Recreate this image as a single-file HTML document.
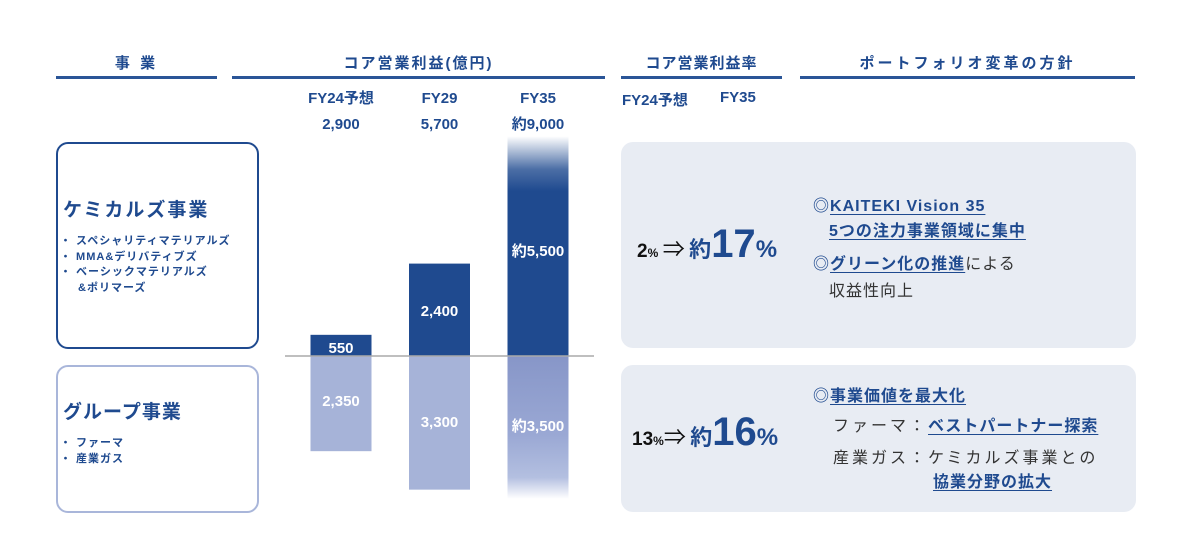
<!DOCTYPE html>
<html><head><meta charset="utf-8">
<style>
body{margin:0;width:1200px;height:560px;background:#fff;font-family:"Liberation Sans","Noto Sans CJK JP",sans-serif;position:relative;overflow:hidden;color:#1f4a8f}
.abs{position:absolute}
.hd{font-weight:bold;font-size:15px;letter-spacing:3px;text-align:center;color:#1f4a8f}
.ul{height:3px;background:#2a5597}
.b{font-weight:bold}
.panel{background:#e8ecf3;border-radius:12px}
.u{text-decoration:underline;text-underline-offset:3px;text-decoration-thickness:1px}
.g{color:#333;font-weight:normal}
</style></head><body>
<div class="abs hd" style="left:56px;top:52px;width:161px">事 業</div>
<div class="abs ul" style="left:56px;top:76px;width:161px"></div>
<div class="abs hd" style="left:232px;top:52px;width:373px;letter-spacing:2px">コア営業利益(億円)</div>
<div class="abs ul" style="left:232px;top:76px;width:373px"></div>
<div class="abs hd" style="left:621px;top:52px;width:161px;letter-spacing:1px">コア営業利益率</div>
<div class="abs ul" style="left:621px;top:76px;width:161px"></div>
<div class="abs hd" style="left:800px;top:52px;width:335px">ポートフォリオ変革の方針</div>
<div class="abs ul" style="left:800px;top:76px;width:335px"></div>

<div class="abs b" style="left:622px;top:89px;font-size:15px">FY24予想</div>
<div class="abs b" style="left:720px;top:89px;font-size:15px">FY35</div>

<div class="abs" style="left:56px;top:142px;width:199px;height:203px;border:2px solid #1f4a8f;border-radius:12px"></div>
<div class="abs b" style="left:63px;top:195px;font-size:19px;letter-spacing:2px">ケミカルズ事業</div>
<div class="abs b" style="left:60px;top:234px;font-size:11px;line-height:15.5px;letter-spacing:1px">
<div>・ スペシャリティマテリアルズ</div><div>・ MMA&amp;デリバティブズ</div><div>・ ベーシックマテリアルズ</div><div style="padding-left:18px">&amp;ポリマーズ</div></div>
<div class="abs" style="left:56px;top:365px;width:199px;height:144px;border:2px solid #a9b6da;border-radius:12px"></div>
<div class="abs b" style="left:63px;top:397px;font-size:19px;letter-spacing:1px">グループ事業</div>
<div class="abs b" style="left:60px;top:436px;font-size:11px;line-height:15.5px;letter-spacing:1px"><div>・ ファーマ</div><div>・ 産業ガス</div></div>

<svg id="chart" class="abs" style="left:0;top:0" width="620" height="560">
<defs>
<linearGradient id="gTop" x1="0" y1="0" x2="0" y2="1"><stop offset="0" stop-color="#1f4a8f" stop-opacity="0"/><stop offset="0.15" stop-color="#1f4a8f" stop-opacity="0.8"/><stop offset="0.25" stop-color="#1f4a8f"/><stop offset="1" stop-color="#1f4a8f"/></linearGradient>
<linearGradient id="gBot" x1="0" y1="0" x2="0" y2="1"><stop offset="0" stop-color="#8796c8"/><stop offset="0.55" stop-color="#9aa8d4"/><stop offset="0.85" stop-color="#b3bfe0"/><stop offset="1" stop-color="#ffffff"/></linearGradient>
</defs>
</svg>

<div class="abs panel" style="left:621px;top:142px;width:515px;height:206px"></div>
<div class="abs b" style="left:637px;top:222px;color:#111;white-space:nowrap"><span style="font-size:19px">2</span><span style="font-size:12px">%</span> <span style="font-size:22px;font-weight:normal">⇒</span> <span style="color:#1f4a8f;font-size:22px">約</span><span style="color:#1f4a8f;font-size:40px">17</span><span style="color:#1f4a8f;font-size:24px">%</span></div>
<div class="abs b" style="left:813px;top:192px;font-size:16px;line-height:29px;letter-spacing:1px;white-space:nowrap">
<div>◎<span class="u">KAITEKI Vision 35 </span></div>
<div style="padding-left:16px;margin-top:-4px"><span class="u">5つの注力事業領域に集中</span></div>
<div style="margin-top:4px">◎<span class="u">グリーン化の推進</span><span class="g">による</span></div>
<div class="g" style="padding-left:16px;margin-top:-2px">収益性向上</div></div>

<div class="abs panel" style="left:621px;top:365px;width:515px;height:147px"></div>
<div class="abs b" style="left:632px;top:410px;color:#111;white-space:nowrap"><span style="font-size:19px">13</span><span style="font-size:12px">%</span><span style="font-size:22px;font-weight:normal">⇒</span> <span style="color:#1f4a8f;font-size:22px">約</span><span style="color:#1f4a8f;font-size:40px">16</span><span style="color:#1f4a8f;font-size:24px">%</span></div>
<div class="abs b" style="left:813px;top:382px;font-size:16px;line-height:30px;letter-spacing:1px;white-space:nowrap">
<div>◎<span class="u">事業価値を最大化</span></div>
<div style="padding-left:20px"><span class="g" style="letter-spacing:3px">ファーマ：</span><span class="u">ベストパートナー探索</span></div>
<div style="padding-left:20px;margin-top:2px"><span class="g" style="letter-spacing:3px">産業ガス：ケミカルズ事業との</span></div>
<div style="padding-left:120px;margin-top:-6px"><span class="u">協業分野の拡大</span></div></div>

<script>
const categories=["FY24予想","FY29","FY35"];
const totals=["2,900","5,700","約9,000"];
const chemValues=[550,2400,5500];
const groupValues=[2350,3300,3500];
const chemLabels=["550","2,400","約5,500"];
const groupLabels=["2,350","3,300","約3,500"];
const NS="http://www.w3.org/2000/svg";
const svg=document.getElementById('chart');
const baseY=356, upScale=0.0385, downScale=0.0405;
const xCenter=i=>341+i*98.5;
const barW=61;
const yUp=v=>baseY-v*upScale;
const yDown=v=>baseY+v*downScale;
function t(x,y,s,size,fill,name){const e=document.createElementNS(NS,'text');e.setAttribute('x',x);e.setAttribute('y',y);e.setAttribute('text-anchor','middle');e.setAttribute('font-size',size);e.setAttribute('font-weight','bold');e.setAttribute('fill',fill);e.textContent=s;


svg.appendChild(e);return e;}
categories.forEach((c,i)=>{
  const cx=xCenter(i), last=i===categories.length-1;
  t(cx,103,c,15,'#1f4a8f','category-label');
  t(cx,129,totals[i],15,'#1f4a8f','total-label');
  let r=document.createElementNS(NS,'rect');
  const yt=last?yUp(chemValues[i])-8:yUp(chemValues[i]);
  r.setAttribute('x',cx-barW/2);r.setAttribute('y',yt);r.setAttribute('width',barW);r.setAttribute('height',baseY-yt);
  r.setAttribute('fill',last?'url(#gTop)':'#1f4a8f');
  
  
  svg.appendChild(r);
  r=document.createElementNS(NS,'rect');
  const yb=last?yDown(groupValues[i])+1:yDown(groupValues[i]);
  r.setAttribute('x',cx-barW/2);r.setAttribute('y',baseY);r.setAttribute('width',barW);r.setAttribute('height',yb-baseY);
  r.setAttribute('fill',last?'url(#gBot)':'#a6b3d8');
  
  
  svg.appendChild(r);
  const cy=i===0?baseY-3:(yUp(chemValues[i])+baseY)/2+6;
  t(cx,cy,chemLabels[i],15,'#fff','chemicals-value');
  const gy=i===0?baseY+50:(baseY+yDown(groupValues[i]))/2+4;
  t(cx,gy,groupLabels[i],15,'#fff','group-value');
});
const l=document.createElementNS(NS,'line');
l.setAttribute('x1',285);l.setAttribute('x2',594);l.setAttribute('y1',baseY);l.setAttribute('y2',baseY);
l.setAttribute('stroke','#aaaaaa');l.setAttribute('stroke-width',1.5);


svg.appendChild(l);
</script>
</body></html>
